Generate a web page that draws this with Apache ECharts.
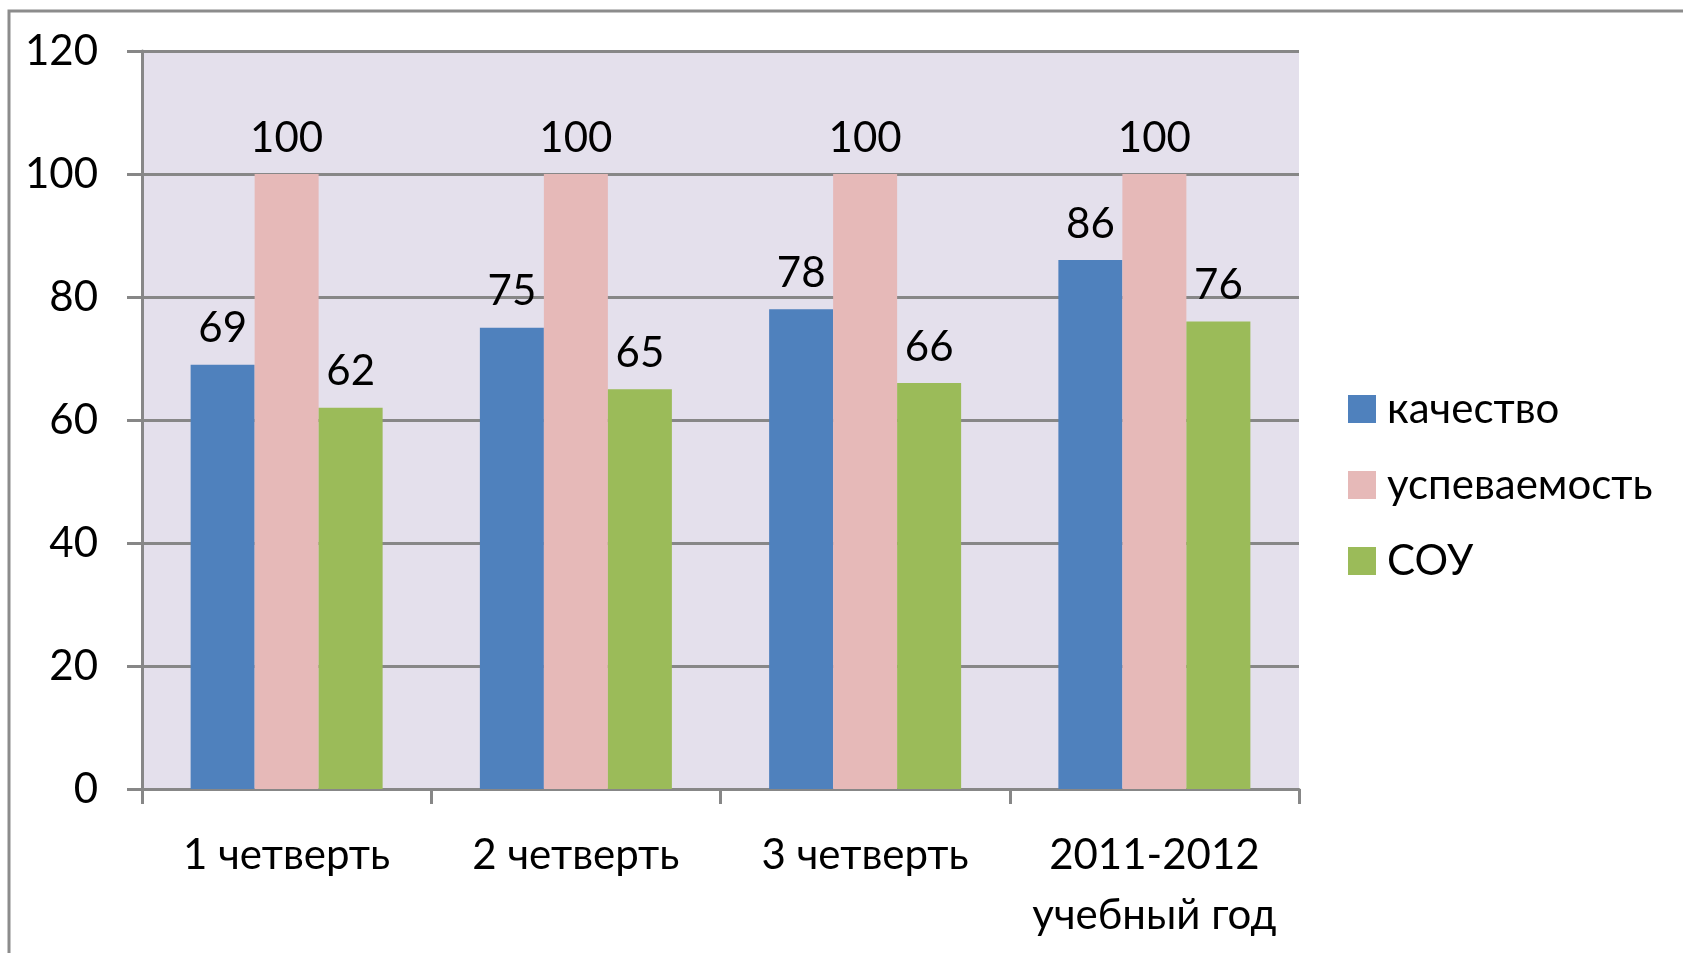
<!DOCTYPE html>
<html>
<head>
<meta charset="utf-8">
<script src="https://cdn.jsdelivr.net/npm/echarts@6/dist/echarts.min.js"></script>
<style>
  html, body { margin: 0; padding: 0; background: #fff; }
  #chart { width: 1683px; height: 953px; }
</style>
</head>
<body>
<div id="chart"></div>
<script>
const categories = ['1 четверть', '2 четверть', '3 четверть', '2011-2012\nучебный год']
const seriesNames = ['качество', 'успеваемость', 'СОУ']
const quality = [69, 75, 78, 86]
const progress = [100, 100, 100, 100]
const sou = [62, 65, 66, 76]
const yTicks = { min: 0, max: 120, step: 20 }

const FONT = 'Lato, "Open Sans", sans-serif'
const GRAY = '#878787'
const colors = ['#4F81BD', '#E6B9B8', '#9BBB59']

const chart = echarts.init(document.getElementById('chart'))

const barSeries = (name, data, color) => ({
  name,
  type: 'bar',
  data,
  barWidth: 64,
  barGap: '0%',
  itemStyle: { color },
  label: {
    show: true,
    position: 'top',
    distance: 15,
    color: '#000',
    fontFamily: FONT,
    fontSize: 42
  }
})

chart.setOption({
  animation: false,
  textStyle: { fontFamily: FONT },
  graphic: [
    {
      type: 'rect',
      shape: { x: 9, y: 11, width: 1800, height: 1100 },
      style: { fill: 'none', stroke: '#8c8c8c', lineWidth: 3 },
      silent: true
    }
  ],
  grid: {
    left: 142,
    right: 384,
    top: 51,
    bottom: 164,
    show: true,
    backgroundColor: '#E4E0EC',
    borderWidth: 0
  },
  legend: {
    orient: 'vertical',
    left: 1343,
    top: 383,
    itemWidth: 28,
    itemHeight: 28,
    itemGap: 34,
    icon: 'rect',
    data: seriesNames,
    textStyle: {
      color: '#000',
      fontFamily: FONT,
      fontSize: 42,
      padding: [0, 0, 0, 6]
    }
  },
  xAxis: {
    type: 'category',
    data: categories,
    axisLine: { lineStyle: { color: GRAY, width: 3 } },
    axisTick: { show: true, length: 15, lineStyle: { color: GRAY, width: 3 } },
    axisLabel: {
      color: '#000',
      fontFamily: FONT,
      fontSize: 42,
      margin: 36,
      lineHeight: 60,
      interval: 0
    }
  },
  yAxis: {
    type: 'value',
    min: yTicks.min,
    max: yTicks.max,
    interval: yTicks.step,
    axisLine: { show: true, lineStyle: { color: GRAY, width: 3 } },
    axisTick: { show: true, length: 15, lineStyle: { color: GRAY, width: 3 } },
    splitLine: { lineStyle: { color: GRAY, width: 3 } },
    axisLabel: {
      color: '#000',
      fontFamily: FONT,
      fontSize: 42,
      margin: 44
    }
  },
  series: [
    barSeries(seriesNames[0], quality, colors[0]),
    barSeries(seriesNames[1], progress, colors[1]),
    barSeries(seriesNames[2], sou, colors[2])
  ]
})
</script>
</body>
</html>
